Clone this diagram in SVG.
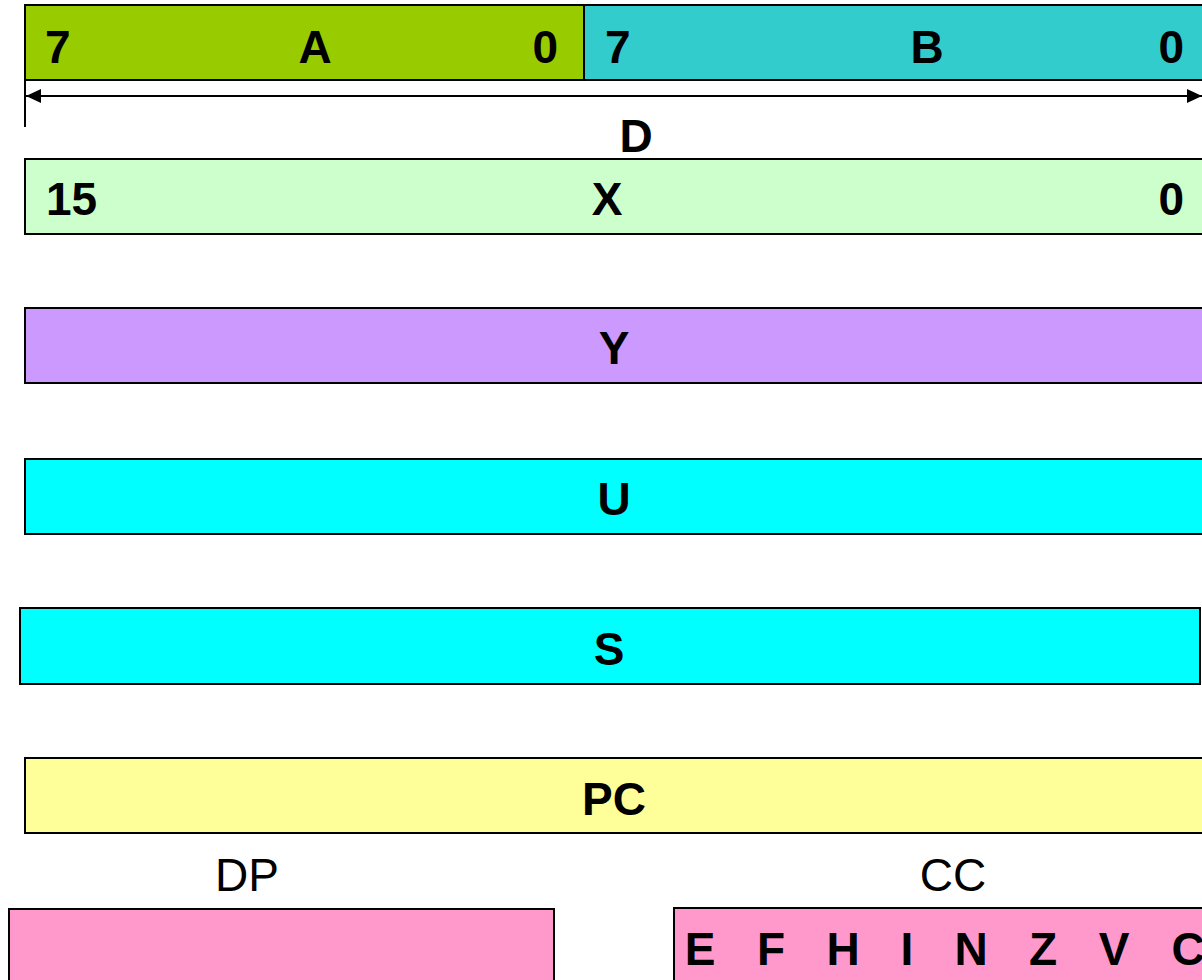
<svg xmlns="http://www.w3.org/2000/svg" width="1202" height="980" viewBox="0 0 1202 980">
<style>
.reg{stroke:#000;stroke-width:2}
.b{font-family:"Liberation Sans",Arial,sans-serif;font-weight:bold;font-size:46px;fill:#000}
.n{font-family:"Liberation Sans",Arial,sans-serif;font-size:46px;fill:#000}
.m{text-anchor:middle}
.e{text-anchor:end}
</style>
<defs>
<marker id="ah" markerWidth="16" markerHeight="14" refX="15" refY="7" orient="auto-start-reverse" markerUnits="userSpaceOnUse">
<path d="M0,0 L15,7 L0,14 Z" fill="#000"/>
</marker>
</defs>
<rect width="1202" height="980" fill="#fff"/>
<g id="regA">
<rect class="reg" x="25" y="5" width="559" height="75" fill="#99CC00"/>
<text class="b" x="45" y="63">7</text>
<text class="b m" x="315" y="63">A</text>
<text class="b e" x="558" y="63">0</text>
</g>
<g id="regB">
<rect class="reg" x="584" y="5" width="630" height="75" fill="#33CCCC"/>
<text class="b" x="605" y="63">7</text>
<text class="b m" x="927" y="63">B</text>
<text class="b e" x="1184" y="63">0</text>
</g>
<g id="connectors">
<line x1="25" y1="80" x2="25" y2="127" stroke="#000" stroke-width="2"/>
<line x1="26" y1="96" x2="1202" y2="96" stroke="#000" stroke-width="2" marker-start="url(#ah)" marker-end="url(#ah)"/>
</g>
<g id="labelD"><text class="b m" x="636" y="152">D</text></g>
<g id="regX">
<rect class="reg" x="25" y="159" width="1190" height="75" fill="#CCFFCC"/>
<text class="b" x="46" y="215">15</text>
<text class="b m" x="607" y="215">X</text>
<text class="b e" x="1184" y="215">0</text>
</g>
<g id="regY">
<rect class="reg" x="25" y="308" width="1190" height="75" fill="#CC99FF"/>
<text class="b m" x="614" y="364">Y</text>
</g>
<g id="regU">
<rect class="reg" x="25" y="459" width="1190" height="75" fill="#00FFFF"/>
<text class="b m" x="614" y="515">U</text>
</g>
<g id="regS">
<rect class="reg" x="20" y="608" width="1180" height="76" fill="#00FFFF"/>
<text class="b m" x="609" y="665">S</text>
</g>
<g id="regPC">
<rect class="reg" x="25" y="758" width="1190" height="75" fill="#FFFF99"/>
<text class="b m" x="614" y="815">PC</text>
</g>
<g id="regDP">
<text class="n m" x="247" y="891">DP</text>
<rect class="reg" x="9" y="909" width="545" height="90" fill="#FF99CC"/>
</g>
<g id="regCC">
<text class="n m" x="953" y="891">CC</text>
<rect class="reg" x="674" y="908" width="560" height="90" fill="#FF99CC"/>
<text class="b m" x="700" y="965">E</text>
<text class="b m" x="771" y="965">F</text>
<text class="b m" x="843" y="965">H</text>
<text class="b m" x="907" y="965">I</text>
<text class="b m" x="971" y="965">N</text>
<text class="b m" x="1043" y="965">Z</text>
<text class="b m" x="1114" y="965">V</text>
<text class="b m" x="1188" y="965">C</text>
</g>
</svg>
